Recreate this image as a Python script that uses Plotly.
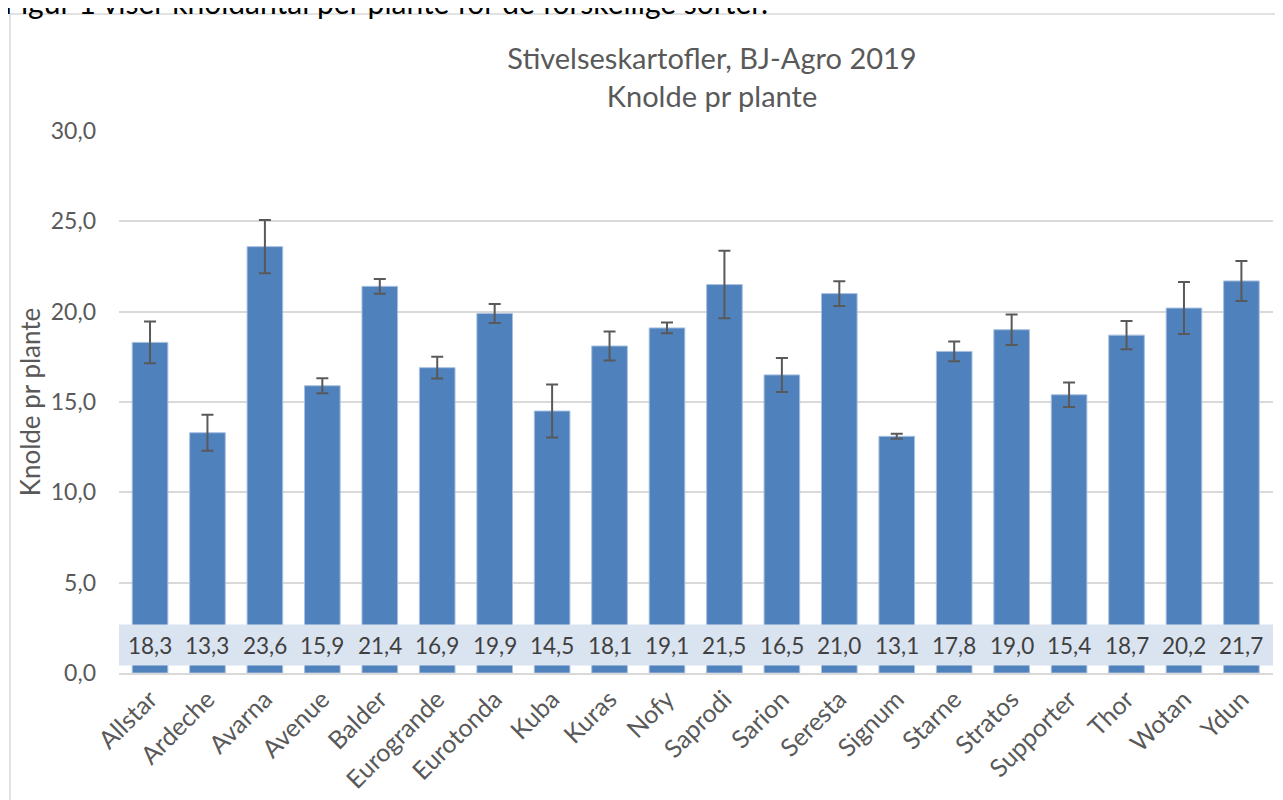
import plotly.graph_objects as go

# ── Data ──────────────────────────────────────────────────────────────────────
SORTER = ["Allstar", "Ardeche", "Avarna", "Avenue", "Balder", "Eurogrande",
          "Eurotonda", "Kuba", "Kuras", "Nofy", "Saprodi", "Sarion", "Seresta",
          "Signum", "Starne", "Stratos", "Supporter", "Thor", "Wotan", "Ydun"]
KNOLDE = [18.3, 13.3, 23.6, 15.9, 21.4, 16.9, 19.9, 14.5, 18.1, 19.1,
          21.5, 16.5, 21.0, 13.1, 17.8, 19.0, 15.4, 18.7, 20.2, 21.7]
FEJL = [1.15, 1.0, 1.48, 0.42, 0.41, 0.6, 0.53, 1.47, 0.8, 0.3,
        1.87, 0.94, 0.69, 0.14, 0.55, 0.84, 0.68, 0.78, 1.44, 1.11]
Y_TICKS = [0, 5, 10, 15, 20, 25, 30]

# ── Colors ────────────────────────────────────────────────────────────────────
BAR_BLUE = "#4F81BD"
BAND = "#DAE3F0"
TEXT_GREY = "#595959"
LABEL_GREY = "#404040"
GRID = "#D9D9D9"
FONT = "Lato, 'Open Sans', sans-serif"

# page body adds 8px offset, margins compensate for it
W, H = 1283, 800
L, R, T, B = 111, 18, 123, 135
pw, ph = W - L - R, H - T - B

fig = go.Figure()

fig.add_trace(go.Bar(
    x=SORTER, y=KNOLDE,
    marker=dict(color=BAR_BLUE, line=dict(color="#A9BFDF", width=1)),
    error_y=dict(type="data", array=FEJL, visible=True,
                 color=TEXT_GREY, thickness=2, width=6),
    hoverinfo="x+y",
))

# light band behind the value labels
fig.add_shape(type="rect", xref="x", yref="y", x0=-0.54, x1=19.55, y0=0.42, y1=2.68,
              fillcolor=BAND, line_width=0, layer="above")

for s, v in zip(SORTER, KNOLDE):
    fig.add_annotation(x=s, y=1.55, xref="x", yref="y",
                       text=f"{v:.1f}".replace(".", ","), showarrow=False,
                       font=dict(size=22.5, color=LABEL_GREY, family=FONT))

# chart frame
fig.add_shape(type="rect", xref="paper", yref="paper",
              x0=(2 - L) / pw, x1=(1273 - L) / pw,
              y0=(H - B - 815) / ph, y1=(H - B - 6) / ph,
              line=dict(color=GRID, width=1.5), fillcolor="rgba(0,0,0,0)", layer="below")

# document text above the chart, cut off at the top
fig.add_annotation(text="Figur 1 viser knoldantal per plante for de forskellige sorter.",
                   xref="paper", yref="paper", x=(-6 - L) / pw, xanchor="left",
                   y=1, yanchor="middle", yshift=T + 6, showarrow=False,
                   font=dict(size=30, color="#000000", family=FONT))

fig.update_layout(
    width=W, height=H,
    separators=",.",
    paper_bgcolor="white", plot_bgcolor="white",
    margin=dict(l=L, r=R, t=T, b=B),
    font=dict(family=FONT, color=TEXT_GREY, size=22),
    title=dict(text="Stivelseskartofler, BJ-Agro 2019<br>Knolde pr plante",
               x=704 / W, xanchor="center", xref="container",
               y=1 - 61 / H, yanchor="middle", yref="container",
               font=dict(size=29, color=TEXT_GREY, family=FONT)),
    bargap=0.38,
    showlegend=False,
)
fig.update_xaxes(tickangle=-45, tickfont=dict(size=25, color=TEXT_GREY),
                 showline=True, linecolor=GRID, linewidth=1.5,
                 showgrid=False, ticks="")
fig.update_yaxes(range=[0, 30], tickvals=Y_TICKS, tickformat=".1f",
                 tickfont=dict(size=23, color=TEXT_GREY),
                 ticklabelstandoff=22,
                 showgrid=True, gridcolor=GRID, gridwidth=1.5, zeroline=False,
                 title=dict(text="Knolde pr plante", standoff=2,
                            font=dict(size=26, color=TEXT_GREY)))

fig.write_html("out.html")
